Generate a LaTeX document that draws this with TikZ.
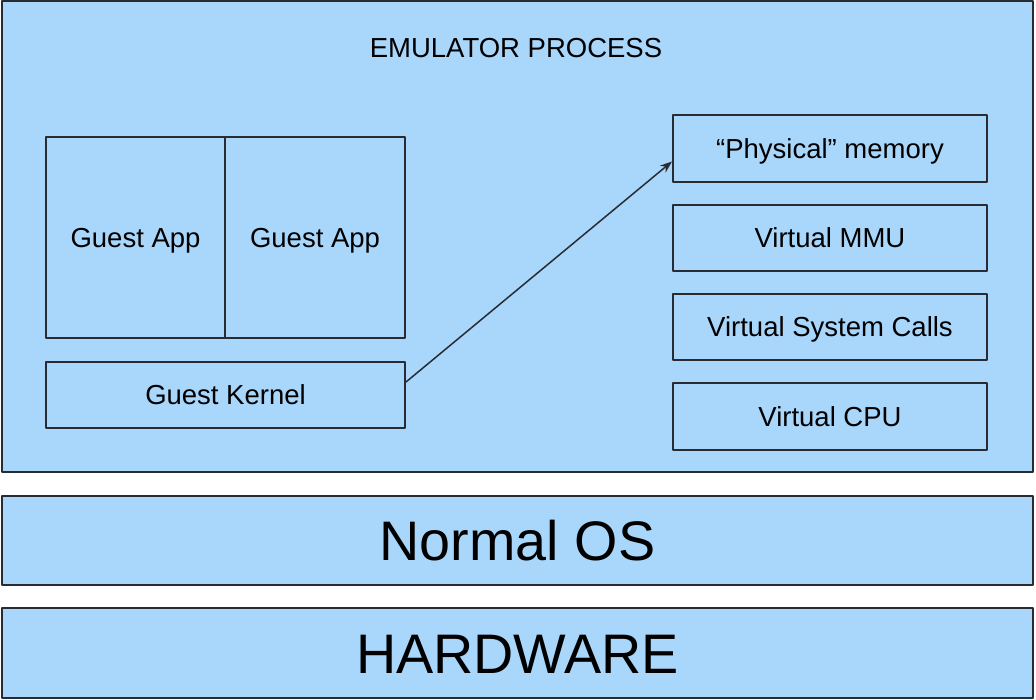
\documentclass[tikz,border=0pt]{standalone}
\usepackage{fontspec}
\setmainfont{Liberation Sans}
\usetikzlibrary{arrows.meta}
\definecolor{emu}{RGB}{169,214,251}
\definecolor{edge}{RGB}{40,44,50}
\tikzset{
  box/.style={draw=edge,fill=emu,line width=2pt,inner sep=0pt},
  small/.style={font=\fontsize{27.5}{33}\selectfont,text height=19.8pt,text depth=0pt},
  big/.style={font=\fontsize{55.7}{66}\selectfont,text height=40pt,text depth=0pt}
}
\begin{document}
\begin{tikzpicture}[>={Stealth[length=12pt,width=9pt]},line join=round,x=1pt,y=-1pt]
	\useasboundingbox (0,0) rectangle (1036,700);
	% outer layers
	\node[box,minimum width=1031pt,minimum height=471pt] (emu) at (517.5,236.5) {};
	\node[small] (title) at (516,48) {EMULATOR PROCESS};
	\node[box,big,minimum width=1031pt,minimum height=89pt] (os) at (517.5,540.5) {Normal OS};
	\node[box,big,minimum width=1031pt,minimum height=90pt] (hw) at (517.5,653) {HARDWARE};
	% guest side
	\node[box,small,minimum width=179pt,minimum height=201pt] (appA) at (135.5,237.5) {Guest App};
	\node[box,small,minimum width=180pt,minimum height=201pt] (appB) at (315,237.5) {Guest App};
	\node[box,small,minimum width=359pt,minimum height=66pt] (kernel) at (225.5,395) {Guest Kernel};
	% emulated parts
	\node[box,small,minimum width=314pt,minimum height=67pt] (phys) at (830,148.5) {“Physical” memory};
	\node[box,small,minimum width=314pt,minimum height=66pt] (mmu) at (830,238) {Virtual MMU};
	\node[box,small,minimum width=314pt,minimum height=66pt] (sys) at (830,327) {Virtual System Calls};
	\node[box,small,minimum width=314pt,minimum height=67pt] (cpu) at (830,416.5) {Virtual CPU};
	\draw[->,line width=1.5pt,draw=edge] ([yshift=13pt]kernel.east) -- ([yshift=-13pt]phys.west);
\end{tikzpicture}
\end{document}
